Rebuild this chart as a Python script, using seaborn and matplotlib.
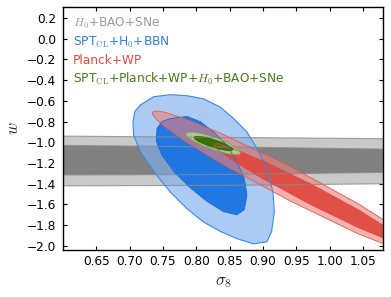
import matplotlib
matplotlib.use("Agg")
import matplotlib.pyplot as plt
import seaborn as sns

# tick positions
s8_ticks = [0.65, 0.70, 0.75, 0.80, 0.85, 0.90, 0.95, 1.00, 1.05]
w_ticks = [-2.0, -1.8, -1.6, -1.4, -1.2, -1.0, -0.8, -0.6, -0.4, -0.2, 0.0, 0.2]

# H0+BAO+SNe: nearly horizontal bands, edges read at three sigma8 values
band_s8 = [0.60, 0.85, 1.08]
band95_top = [-0.940, -0.953, -0.965]
band95_bot = [-1.420, -1.415, -1.400]
band68_top = [-1.030, -1.045, -1.065]
band68_bot = [-1.315, -1.310, -1.290]

# SPT_CL+H0+BBN contours (traced)
spt95_s8 = [0.716, 0.736, 0.761, 0.786, 0.811, 0.836, 0.856, 0.876, 0.891, 0.906, 0.915, 0.917, 0.913,
            0.906, 0.886, 0.861, 0.836, 0.811, 0.786, 0.761, 0.736, 0.716, 0.706, 0.705, 0.708]
spt95_w = [-0.64, -0.56, -0.54, -0.55, -0.58, -0.66, -0.77, -0.90, -1.06, -1.25, -1.48, -1.67, -1.86,
           -1.96, -1.98, -1.93, -1.86, -1.77, -1.64, -1.48, -1.28, -1.09, -0.93, -0.80, -0.70]
spt68_s8 = [0.761, 0.786, 0.806, 0.826, 0.846, 0.861, 0.872, 0.876, 0.872, 0.861, 0.841, 0.816,
            0.791, 0.766, 0.748, 0.740, 0.741, 0.748]
spt68_w = [-0.77, -0.75, -0.80, -0.90, -1.03, -1.19, -1.35, -1.51, -1.65, -1.70, -1.67, -1.57,
           -1.44, -1.28, -1.12, -0.99, -0.87, -0.80]

# Planck+WP contours (traced)
pl95_s8 = [1.148, 1.120, 1.044, 0.941, 0.837, 0.782, 0.753, 0.741, 0.736, 0.734, 0.736, 0.741,
           0.753, 0.782, 0.837, 0.941, 1.044, 1.120]
pl95_w = [-2.084, -1.909, -1.597, -1.233, -0.914, -0.770, -0.710, -0.697, -0.701, -0.717, -0.747, -0.784,
          -0.851, -0.984, -1.204, -1.567, -1.887, -2.076]
pl68_s8 = [1.115, 1.095, 1.043, 0.971, 0.899, 0.853, 0.834, 0.828, 0.827, 0.828, 0.834, 0.853,
           0.899, 0.971, 1.043, 1.095]
pl68_w = [-1.975, -1.862, -1.651, -1.400, -1.177, -1.054, -1.017, -1.016, -1.025, -1.043, -1.079, -1.168,
          -1.348, -1.599, -1.823, -1.961]

# SPT_CL+Planck+WP+H0+BAO+SNe contours (traced)
all95_s8 = [0.867, 0.865, 0.857, 0.846, 0.833, 0.818, 0.805, 0.794, 0.786, 0.784, 0.786, 0.794,
            0.805, 0.818, 0.833, 0.846, 0.857, 0.865]
all95_w = [-1.098, -1.071, -1.038, -1.000, -0.963, -0.931, -0.910, -0.900, -0.903, -0.920, -0.947, -0.981,
           -1.019, -1.055, -1.087, -1.108, -1.118, -1.115]
all68_s8 = [0.855, 0.853, 0.848, 0.841, 0.831, 0.821, 0.811, 0.803, 0.798, 0.797, 0.798, 0.803,
            0.811, 0.821, 0.831, 0.841, 0.848, 0.853]
all68_w = [-1.069, -1.053, -1.031, -1.007, -0.983, -0.963, -0.949, -0.942, -0.944, -0.954, -0.970, -0.992,
           -1.016, -1.039, -1.060, -1.074, -1.081, -1.079]

labels = [r"$H_0$+BAO+SNe", r"SPT$_{\rm CL}$+H$_0$+BBN", "Planck+WP",
          r"SPT$_{\rm CL}$+Planck+WP+$H_0$+BAO+SNe"]
label_colors = ["#9a9a9a", "#2b7de9", "#e8483f", "#4a7a1a"]

sns.set_style("ticks")
plt.rcParams.update({
    "font.family": ["DejaVu Sans"],
    "mathtext.fontset": "cm",
    "xtick.direction": "in", "ytick.direction": "in",
    "xtick.top": True, "ytick.right": True,
    "xtick.major.size": 3.2, "ytick.major.size": 3.2,
    "xtick.major.width": 0.8, "ytick.major.width": 0.8,
    "axes.linewidth": 1.0, "axes.edgecolor": "black",
    "xtick.color": "black", "ytick.color": "black",
})

fig, ax = plt.subplots(figsize=(3.91, 2.97), dpi=100)
fig.subplots_adjust(left=0.161, right=0.9795, top=0.976, bottom=0.158)


def closed(x, y):
    return list(x) + [x[0]], list(y) + [y[0]]


# gray band fills
ax.fill(band_s8 + band_s8[::-1], band95_top + band95_bot[::-1], color="#c9c9c9", lw=0)
ax.fill(band_s8 + band_s8[::-1], band68_top + band68_bot[::-1], color="#808080", lw=0)

# other fills
ax.fill(spt95_s8, spt95_w, color="#7fb0f0", alpha=0.65, lw=0)
ax.fill(spt68_s8, spt68_w, color="#1a74e2", alpha=0.95, lw=0)
ax.fill(pl95_s8, pl95_w, color="#ed7f7b", alpha=0.6, lw=0)
ax.fill(pl68_s8, pl68_w, color="#e0483e", alpha=0.92, lw=0)
ax.fill(all95_s8, all95_w, color="#b3c98c", alpha=0.95, lw=0)
ax.fill(all68_s8, all68_w, color="#3a6e06", lw=0)

# outlines on top
for edge in [band95_top, band95_bot, band68_top, band68_bot]:
    sns.lineplot(x=band_s8, y=edge, sort=False, estimator=None, color="#8a8a8a", lw=0.8, alpha=0.8, ax=ax)

outlines = [
    (spt95_s8, spt95_w, "#3a89e8", 0.8),
    (spt68_s8, spt68_w, "#1a6fd8", 0.6),
    (pl95_s8, pl95_w, "#e8574e", 0.6),
    (pl68_s8, pl68_w, "#e0483e", 0.6),
    (all95_s8, all95_w, "#7da050", 0.6),
    (all68_s8, all68_w, "#3a6e06", 0.6),
]
for xs, ys, col, lw in outlines:
    cx, cy = closed(xs, ys)
    sns.lineplot(x=cx, y=cy, sort=False, estimator=None, color=col, lw=lw, ax=ax)

ax.set_xlim(0.60, 1.08)
ax.set_ylim(-2.04, 0.305)
ax.set_xticks(s8_ticks)
ax.set_yticks(w_ticks)
ax.tick_params(labelsize=8.7)
ax.tick_params(axis="y", pad=5)
ax.set_xlabel(r"$\sigma_8$", fontsize=12, labelpad=3)
ax.set_ylabel(r"$w$", fontsize=12, labelpad=3)

for i, (txt, col) in enumerate(zip(labels, label_colors)):
    ax.text(0.032, 0.933 - i * 0.0765, txt, color=col, fontsize=8.7,
            transform=ax.transAxes, va="center", ha="left")

fig.savefig("out.png", dpi=100)
